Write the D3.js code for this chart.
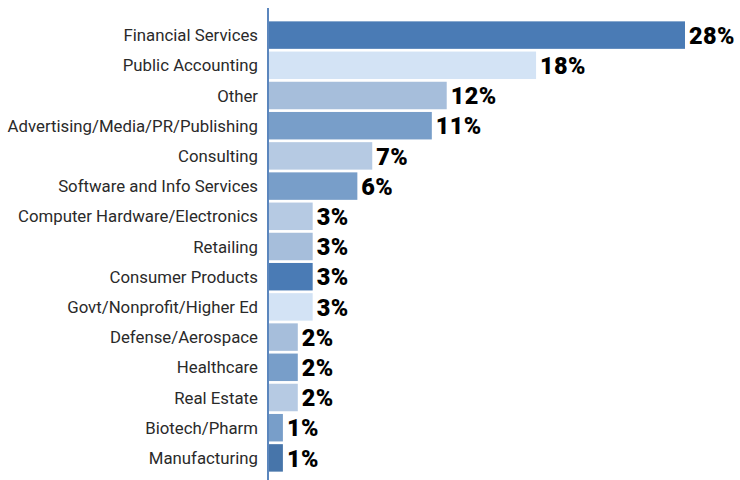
<!DOCTYPE html>
<html>
<head>
<meta charset="utf-8">
<script src="https://cdn.jsdelivr.net/npm/d3@7"></script>
<style>
  body { margin: 0; background: #fff; }
  svg { display: block; }
</style>
</head>
<body>
<svg id="chart" width="740" height="480"></svg>
<script>
const industries = [
  "Financial Services", "Public Accounting", "Other", "Advertising/Media/PR/Publishing",
  "Consulting", "Software and Info Services", "Computer Hardware/Electronics", "Retailing",
  "Consumer Products", "Govt/Nonprofit/Higher Ed", "Defense/Aerospace", "Healthcare",
  "Real Estate", "Biotech/Pharm", "Manufacturing"
];
const shares = [28, 18, 12, 11, 7, 6, 3, 3, 3, 3, 2, 2, 2, 1, 1];
const barColors = [
  "#4a7bb5", "#d3e3f5", "#a6bedb", "#789ec9", "#b6cae3", "#789ec9", "#b6cae3", "#a6bedb",
  "#4a7bb5", "#d3e3f5", "#a6bedb", "#789ec9", "#b6cae3", "#789ec9", "#4775aa"
];

const LABEL_FONT = "'Roboto', 'Liberation Sans', sans-serif";

const M = {left: 268, top: 20, bottom: 473};

let svg = d3.select("#chart");

let x = d3.scaleLinear().domain([0, 28]).range([M.left, 685]);
let y = d3.scaleBand().domain(industries).range([M.top, M.bottom]).paddingInner(0.09).paddingOuter(0.045);

let rows = industries.map((name, i) => ({name, value: shares[i], color: barColors[i]}));

svg.append("g").selectAll("rect")
  .data(rows)
  .join("rect")
    .attr("x", x(0))
    .attr("y", d => y(d.name))
    .attr("width", d => x(d.value) - x(0))
    .attr("height", y.bandwidth())
    .attr("fill", d => d.color);

// category labels
svg.append("g").selectAll("text")
  .data(rows)
  .join("text")
    .attr("x", M.left - 10)
    .attr("y", d => y(d.name) + y.bandwidth() / 2)
    .attr("dy", "0.36em")
    .attr("text-anchor", "end")
    .attr("font-family", LABEL_FONT)
    .attr("font-size", 16.8)
    .attr("fill", "#2a2a2a")
    .text(d => d.name);

// value labels
svg.append("g").selectAll("text")
  .data(rows)
  .join("text")
    .attr("x", d => x(d.value) + 4)
    .attr("y", d => y(d.name) + y.bandwidth() / 2)
    .attr("dy", "0.37em")
    .attr("font-family", LABEL_FONT)
    .attr("font-weight", 900)
    .attr("font-size", 23.5)
    .attr("letter-spacing", 0.4)
    .attr("fill", "#000")
    .text(d => d.value + "%");

// axis line
svg.append("line")
  .attr("x1", M.left).attr("x2", M.left)
  .attr("y1", 8).attr("y2", 480)
  .attr("stroke", "#5b86bd")
  .attr("stroke-width", 2);
</script>
</body>
</html>
